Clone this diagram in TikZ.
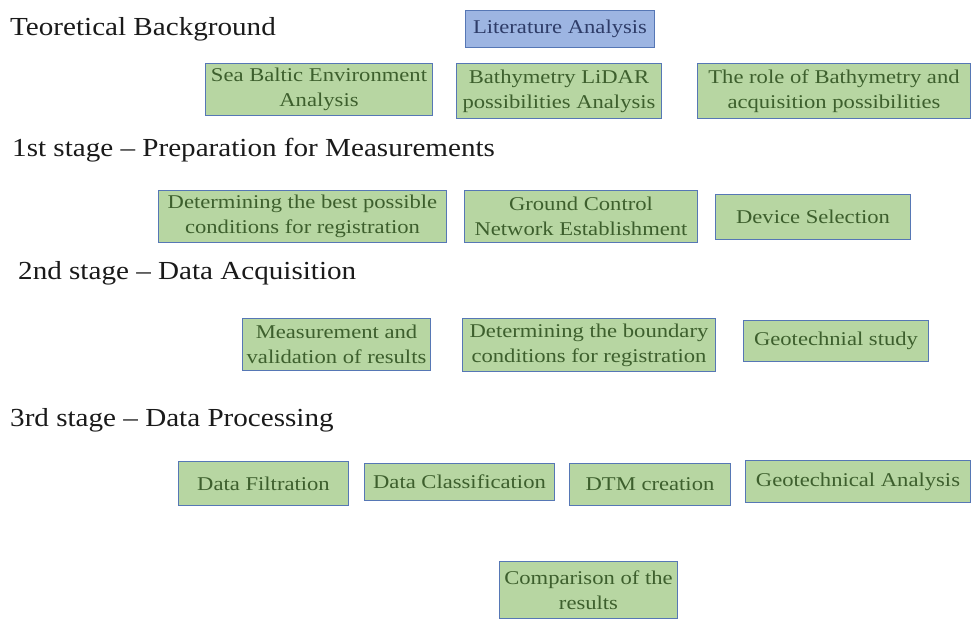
\documentclass[tikz,border=0pt]{standalone}
\usepackage{fontspec}
\setmainfont{Liberation Serif}
\newfontfamily\boxfamily[FakeStretch=1.16,Ligatures=TeX]{Liberation Serif}
\newfontfamily\headfamily[FakeStretch=1.12,Ligatures=TeX]{Liberation Serif}
\definecolor{edgeblue}{HTML}{5677B5}
\definecolor{greenfill}{HTML}{B7D6A2}
\definecolor{greentext}{HTML}{3D5F2D}
\definecolor{bluefill}{HTML}{9DB5E2}
\definecolor{bluetext}{HTML}{2E3C68}
\definecolor{headtext}{HTML}{1A1A1A}
\tikzset{
  stagebox/.style={draw=edgeblue, fill=greenfill, text=greentext, line width=1pt,
    inner sep=0pt, align=center, anchor=north west,
    font=\boxfamily\fontsize{19.5}{25}\selectfont},
  topbox/.style={stagebox, fill=bluefill, text=bluetext},
  heading/.style={anchor=west, inner sep=0pt, text=headtext,
    font=\headfamily\fontsize{26}{30}\selectfont},
}
% box at top-left corner (x,y) with width w and height h, in pixel units
\newcommand{\boxat}[7][stagebox]{%
  \node[#1, minimum width=#5, minimum height=#6] (#2) at (#3,#4) {#7};}
\begin{document}
\begin{tikzpicture}[x=1pt, y=-1pt]
  \useasboundingbox (0,0) rectangle (971,618);
  \fill[white] (0,0) rectangle (971,618);

  % stage headings
  \node[heading] (hTheory) at (10,29) {Teoretical Background};
  \node[heading] (hStage1) at (12,150) {1st stage – Preparation for Measurements};
  \node[heading] (hStage2) at (18,273) {2nd stage – Data Acquisition};
  \node[heading] (hStage3) at (10,420) {3rd stage – Data Processing};

  % theoretical background
  \boxat[topbox]{lit}{465}{10}{189pt}{37pt}{Literature Analysis}
  \boxat{baltic}{205}{63}{227pt}{52pt}{Sea Baltic Environment\\Analysis}
  \boxat{lidar}{456}{63}{205pt}{55pt}{Bathymetry LiDAR\\possibilities Analysis}
  \boxat{role}{697}{63}{273pt}{55pt}{The role of Bathymetry and\\acquisition possibilities}

  % 1st stage
  \boxat{cond}{158}{190}{288pt}{52pt}{Determining the best possible\\conditions for registration}
  \boxat{ground}{464}{190}{233pt}{52pt}{Ground Control\\Network Establishment}
  \boxat{device}{715}{194}{195pt}{45pt}{Device Selection}

  % 2nd stage
  \boxat{measure}{242}{318}{188pt}{52pt}{Measurement and\\validation of results}
  \boxat{boundary}{462}{318}{253pt}{53pt}{Determining the boundary\\conditions for registration}
  \boxat{geostudy}{743}{320}{185pt}{41pt}{Geotechnial study}

  % 3rd stage
  \boxat{filter}{178}{461}{170pt}{44pt}{Data Filtration}
  \boxat{classif}{364}{463}{190pt}{37pt}{Data Classification}
  \boxat{dtm}{569}{463}{161pt}{42pt}{DTM creation}
  \boxat{geoanal}{745}{460}{225pt}{42pt}{Geotechnical Analysis}

  % final comparison
  \boxat{compare}{499}{561}{178pt}{57pt}{Comparison of the\\results}
\end{tikzpicture}
\end{document}
